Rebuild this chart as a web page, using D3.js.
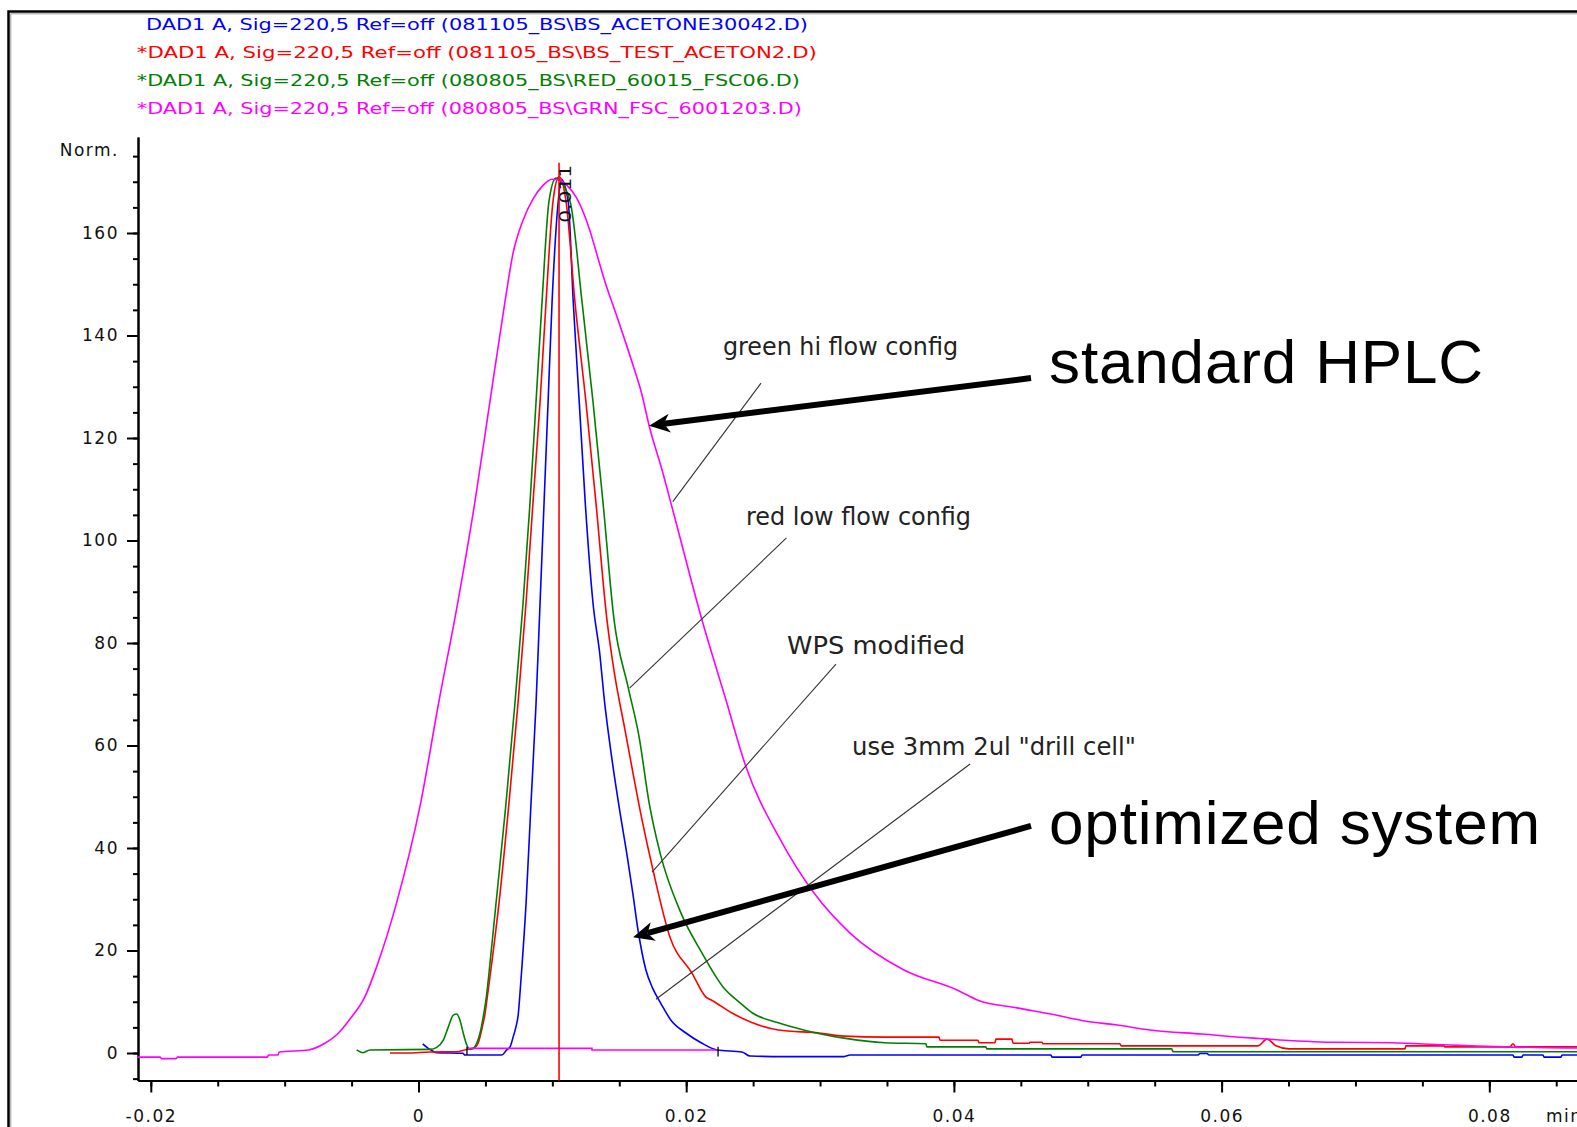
<!DOCTYPE html>
<html>
<head>
<meta charset="utf-8">
<script src="https://cdn.jsdelivr.net/npm/d3@7"></script>
<style>
  html, body { margin: 0; padding: 0; background: #fff; overflow: hidden; }
  svg { display: block; }
</style>
</head>
<body>
<svg id="chart" width="1577" height="1127"></svg>
<script>
// ---- Signal traces: [retention time (min), normalized response] ----
const acetone30042 = [
  [0.00031,1.8],[0.00086,0.7],[0.00136,0.06],[0.00332,-0.06],[0.00347,-0.4],[0.00622,-0.4],
  [0.00659,0.6],[0.00684,1.2],[0.00708,3.2],[0.00728,5.1],[0.00746,7.7],[0.00758,11.6],
  [0.00771,16.2],[0.00803,28.9],[0.0084,48.5],[0.00878,68.1],[0.00908,87.7],[0.00938,107.3],
  [0.00968,127.0],[0.00998,146.6],[0.01044,166.2],[0.01066,170.5],[0.01118,166.2],[0.01156,146.6],
  [0.01201,127.0],[0.01246,107.3],[0.01304,87.7],[0.01356,77.5],[0.01386,69.5],[0.01446,57.2],
  [0.01505,47.0],[0.01558,38.6],[0.01602,31.0],[0.0164,24.0],[0.01699,16.2],[0.0175,12.6],
  [0.01812,9.6],[0.01886,6.4],[0.01998,3.9],[0.02111,2.0],[0.0223,0.6],[0.02417,0.2],
  [0.02477,-0.6],[0.02723,-0.7],[0.03179,-0.7],[0.03224,-0.4],[0.04725,-0.4],[0.04733,-0.8],
  [0.04949,-0.8],[0.04957,-0.4],[0.05824,-0.4],[0.05839,-0.1],[0.05891,-0.1],[0.05906,-0.4],
  [0.08177,-0.4],[0.08185,-0.8],[0.08244,-0.8],[0.08252,-0.4],[0.08401,-0.4],[0.08409,-0.8],
  [0.08536,-0.8],[0.08543,-0.4],[0.0883,-0.4]
];
const testAceton2 = [
  [-0.00213,0.0],[-0.00086,0.0],[0.00086,0.2],[0.00285,0.25],[0.0036,0.7],[0.00409,0.9],
  [0.00445,1.9],[0.00472,4.5],[0.00497,7.7],[0.00521,12.3],[0.00547,17.5],[0.006,28.9],
  [0.00675,48.5],[0.00743,68.1],[0.00803,87.7],[0.00855,107.3],[0.00908,127.0],[0.00953,146.6],
  [0.01005,166.2],[0.0105,171.0],[0.01102,166.2],[0.01169,146.5],[0.01251,127.0],[0.01326,107.3],
  [0.01408,84.5],[0.0146,74.7],[0.01543,63.0],[0.0167,45.5],[0.01752,35.7],[0.01879,22.6],
  [0.02043,15.6],[0.02148,10.9],[0.0219,10.3],[0.02342,7.8],[0.02495,5.9],[0.02688,4.5],
  [0.02992,3.9],[0.0318,3.3],[0.03486,3.1],[0.03888,3.1],[0.03896,2.5],[0.0418,2.5],
  [0.04187,2.0],[0.04307,2.0],[0.04314,2.7],[0.04434,2.7],[0.04441,1.9],[0.04561,1.9],
  [0.04568,2.1],[0.04658,2.1],[0.04666,1.8],[0.05241,1.8],[0.05249,1.4],[0.06272,1.4],
  [0.06339,2.7],[0.06406,1.4],[0.06503,0.8],[0.0737,0.8],[0.07377,1.4],[0.07661,1.4],
  [0.07668,1.2],[0.08154,1.2],[0.08177,1.8],[0.08199,1.2],[0.0883,1.2]
];
const red60015 = [
  [-0.00462,0.6],[-0.00415,0.06],[-0.00362,0.6],[0.00086,0.7],[0.00136,1.1],[0.00185,2.5],
  [0.00223,5.1],[0.0026,7.4],[0.00285,7.6],[0.0031,6.4],[0.00335,3.8],[0.0036,1.6],
  [0.00385,0.7],[0.00409,0.9],[0.00435,1.9],[0.00459,3.8],[0.00484,7.1],[0.0051,11.6],
  [0.00529,16.2],[0.00578,28.9],[0.00653,48.5],[0.0072,68.1],[0.00781,87.7],[0.00833,107.3],
  [0.00878,127.0],[0.00923,146.6],[0.00975,166.2],[0.01027,170.7],[0.01132,166.2],[0.01222,146.5],
  [0.01304,127.0],[0.01379,107.3],[0.01461,84.5],[0.01566,71.4],[0.01648,61.7],[0.01723,48.8],
  [0.01805,39.0],[0.01961,27.3],[0.02118,19.5],[0.02275,12.9],[0.02402,9.8],[0.02495,7.8],
  [0.02688,5.9],[0.02876,4.5],[0.0318,2.9],[0.03485,2.0],[0.03791,1.8],[0.03798,1.2],
  [0.04239,1.2],[0.04246,0.8],[0.05628,0.8],[0.05636,0.25],[0.0883,0.25]
];
const grn6001203 = [
  [-0.021,-0.8],[-0.0193,-0.8],[-0.0192,-1.1],[-0.0181,-1.1],[-0.018,-0.8],[-0.0113,-0.8],
  [-0.0112,-0.4],[-0.0105,-0.4],[-0.0104,0.2],[-0.0082,0.6],[-0.00706,1.8],[-0.00594,4.0],
  [-0.00519,6.4],[-0.004,11.0],[-0.00309,17.1],[-0.00168,28.9],[0.00014,48.5],[0.00149,68.1],
  [0.00292,87.7],[0.0042,107.3],[0.00533,127.0],[0.00646,146.6],[0.00706,156.0],[0.00781,162.5],
  [0.00855,166.6],[0.0093,169.3],[0.00997,170.5],[0.01042,170.4],[0.01109,169.3],[0.01182,166.8],
  [0.0128,160.5],[0.01331,156.0],[0.01393,150.5],[0.01468,144.8],[0.01543,139.0],[0.01605,134.0],
  [0.01668,128.6],[0.01724,122.3],[0.01817,114.0],[0.01899,106.0],[0.02118,84.5],[0.0229,69.5],
  [0.02447,55.8],[0.02693,42.1],[0.02955,31.2],[0.03224,23.4],[0.03627,16.2],[0.04023,12.3],
  [0.0418,10.3],[0.04471,8.8],[0.04725,7.6],[0.04987,6.2],[0.05211,5.5],[0.05465,4.5],
  [0.05853,3.7],[0.06242,2.9],[0.06825,2.1],[0.07273,2.0],[0.07662,1.6],[0.08566,1.0],[0.0883,1.0]
];

// Integration baseline under the main peak and its start/end markers [time, low, high]
const peakBaseline = [[0.00362,0.9],[0.01296,0.9],[0.01296,0.6],[0.02238,0.6]];
const baselineMarks = [[0.00362,-0.4,1.2],[0.02238,-0.7,1.2]];

// Apex retention time and its label
const apexTime = 0.0105;
const apexTop = 173.7;
const apexLabel = "0.011";

// Signal descriptions, in trace order
const traceLabels = [
  "DAD1 A, Sig=220,5 Ref=off (081105_BS\\BS_ACETONE30042.D)",
  "*DAD1 A, Sig=220,5 Ref=off (081105_BS\\BS_TEST_ACETON2.D)",
  "*DAD1 A, Sig=220,5 Ref=off (080805_BS\\RED_60015_FSC06.D)",
  "*DAD1 A, Sig=220,5 Ref=off (080805_BS\\GRN_FSC_6001203.D)"
];

// Axis ticks
const xMajorTicks = [-0.02, 0, 0.02, 0.04, 0.06, 0.08, 0.10];
const xMinorTicks = d3.range(-0.02, 0.1001, 0.005).map(v => +v.toFixed(3));
const yMajorTicks = [0, 20, 40, 60, 80, 100, 120, 140, 160];
const yMinorTicks = d3.range(-5, 176, 5);
const yAxisTitle = "Norm.";
const xAxisUnit = "min";

// Callout notes: text, text anchor (time, value), leader from (time, value) to (time, value)
const noteText = ["green hi flow config", "red low flow config", "WPS modified", "use 3mm 2ul \"drill cell\""];
const noteAnchor = [[0.02275,136.2],[0.02447,103.0],[0.02753,77.9],[0.03239,58.1]];
const noteLeader = [
  [[0.02559,130.7],[0.019,107.6]],
  [[0.02749,100.5],[0.01577,71.2]],
  [[0.03119,75.9],[0.01745,35.3]],
  [[0.04121,56.4],[0.01774,10.5]]
];
// Headline callouts with arrows: text, text anchor, arrow start, arrow tip
const headText = ["standard HPLC", "optimized system"];
const headAnchor = [[0.04711,130.7],[0.04711,40.8]];
const headArrow = [
  [[0.04576,131.7],[0.01722,122.4]],
  [[0.04576,44.3],[0.01603,22.6]]
];

// ---- Presentation ----
const traceColors = ["#0000ff", "#ff0000", "#008000", "#ff00ff"];
const legendX = [146, 136.8, 136.8, 136.8];
const legendLen = [662, 680, 663, 665];
const noteLen = [235, 225, 178, 284];
const headLen = [434, 491];

const svg = d3.select("#chart");
const W = 1577, H = 1127;
svg.append("rect").attr("width", W).attr("height", H).attr("fill", "#fff");

const x = d3.scaleLinear().domain([-0.02, 0.08]).range([150.8, 1489.3]);
const y = d3.scaleLinear().domain([0, 160]).range([1053, 233]);
const axisY = 1080.5, axisX = 138;
const xAxisScale = x.copy().domain([x.invert(axisX), x.invert(1620)]).range([axisX, 1620]);
const yAxisScale = y.copy().domain([y.invert(axisY), y.invert(137)]).range([axisY, 137]);

// Outer frame (top and left edges visible)
const frame = svg.append("g");
frame.append("path").attr("d", `M8.5,${H} V11.5 H${W}`).attr("fill", "none")
  .attr("stroke", "#000").attr("stroke-width", 2.5);
frame.append("path").attr("d", `M10.8,${H} V13.8 H${W}`).attr("fill", "none")
  .attr("stroke", "#999").attr("stroke-width", 1);

const chartFont = "'DejaVu Sans', 'Liberation Sans', sans-serif";

// Signal legend
svg.append("g").selectAll("text").data(traceLabels).join("text")
  .attr("x", (d, i) => legendX[i])
  .attr("y", (d, i) => 29.6 + i * 28.15)
  .attr("font-family", chartFont).attr("font-size", 16.5)
  .attr("fill", (d, i) => traceColors[i])
  .attr("textLength", (d, i) => legendLen[i])
  .attr("lengthAdjust", "spacingAndGlyphs")
  .text(d => d);

// Axes
const fmtX = d => d === 0 ? "0" : d.toFixed(2);
function styleAxis(g) {
  g.select(".domain").attr("stroke", "#000").attr("stroke-width", 2);
  g.selectAll(".tick line").attr("stroke", "#000").attr("stroke-width", 2);
  g.selectAll(".tick text").attr("font-family", chartFont).attr("font-size", 17)
    .attr("fill", "#111").style("letter-spacing", "1.5px");
}
svg.append("g").attr("transform", `translate(0,${axisY})`)
  .call(d3.axisBottom(xAxisScale).tickValues(xMinorTicks).tickSize(6).tickFormat("").tickSizeOuter(0))
  .call(styleAxis);
svg.append("g").attr("transform", `translate(0,${axisY})`)
  .call(d3.axisBottom(xAxisScale).tickValues(xMajorTicks).tickSize(12).tickPadding(17)
    .tickFormat(fmtX).tickSizeOuter(0))
  .call(styleAxis);
svg.append("g").attr("transform", `translate(${axisX},0)`)
  .call(d3.axisLeft(yAxisScale).tickValues(yMinorTicks).tickSize(5).tickFormat("").tickSizeOuter(0))
  .call(styleAxis);
svg.append("g").attr("transform", `translate(${axisX},0)`)
  .call(d3.axisLeft(yAxisScale).tickValues(yMajorTicks).tickSize(11).tickPadding(8).tickSizeOuter(0))
  .call(styleAxis);

svg.append("text").attr("x", 119).attr("y", 156)
  .attr("text-anchor", "end").attr("font-family", chartFont).attr("font-size", 17)
  .attr("fill", "#111").style("letter-spacing", "1.5px").text(yAxisTitle);
svg.append("text").attr("x", 1546).attr("y", axisY + 41)
  .attr("font-family", chartFont).attr("font-size", 17)
  .attr("fill", "#111").style("letter-spacing", "1.5px").text(xAxisUnit);

// Traces
const line = d3.line().x(d => x(d[0])).y(d => y(d[1])).curve(d3.curveMonotoneX);
const straight = d3.line().x(d => x(d[0])).y(d => y(d[1]));
const traces = [acetone30042, testAceton2, red60015, grn6001203];
svg.append("g").selectAll("path").data(traces).join("path")
  .attr("d", line)
  .attr("fill", "none")
  .attr("stroke", (d, i) => traceColors[i])
  .attr("stroke-width", 1.6)
  .attr("stroke-linejoin", "round");

// Integration baseline and markers
svg.append("path").attr("d", straight(peakBaseline)).attr("fill", "none")
  .attr("stroke", traceColors[3]).attr("stroke-width", 1.6);
svg.append("g").selectAll("line").data(baselineMarks).join("line")
  .attr("x1", d => x(d[0])).attr("x2", d => x(d[0]))
  .attr("y1", d => y(d[1])).attr("y2", d => y(d[2]))
  .attr("stroke", "#000").attr("stroke-width", 1.3);

// Apex marker line and rotated retention time
svg.append("line")
  .attr("x1", x(apexTime)).attr("x2", x(apexTime))
  .attr("y1", y(apexTop)).attr("y2", axisY)
  .attr("stroke", "#ff0000").attr("stroke-width", 1.6);
svg.append("text")
  .attr("transform", `translate(${x(apexTime) + 12},${y(apexTop) + 60}) rotate(-90)`)
  .attr("font-family", chartFont).attr("font-size", 15)
  .attr("fill", "#111")
  .attr("textLength", 58).attr("lengthAdjust", "spacingAndGlyphs")
  .text(apexLabel);

// Callout leaders and notes
svg.append("g").selectAll("line").data(noteLeader).join("line")
  .attr("x1", d => x(d[0][0])).attr("y1", d => y(d[0][1]))
  .attr("x2", d => x(d[1][0])).attr("y2", d => y(d[1][1]))
  .attr("stroke", "#333").attr("stroke-width", 1.1);
svg.append("g").selectAll("text").data(noteText).join("text")
  .attr("x", (d, i) => x(noteAnchor[i][0]))
  .attr("y", (d, i) => y(noteAnchor[i][1]))
  .attr("font-family", chartFont).attr("font-size", 24)
  .attr("fill", "#222")
  .attr("textLength", (d, i) => noteLen[i])
  .attr("lengthAdjust", "spacingAndGlyphs")
  .text(d => d);

// Headline arrows
const arrows = svg.append("g");
headArrow.forEach(([s, t]) => {
  const x0 = x(s[0]), y0 = y(s[1]), x1 = x(t[0]), y1 = y(t[1]);
  const len = Math.hypot(x1 - x0, y1 - y0);
  const ux = (x1 - x0) / len, uy = (y1 - y0) / len;
  const px = -uy, py = ux;
  const headL = 21, notch = 15, half = 9.5;
  arrows.append("line")
    .attr("x1", x0).attr("y1", y0)
    .attr("x2", x1 - ux * notch).attr("y2", y1 - uy * notch)
    .attr("stroke", "#000").attr("stroke-width", 6);
  arrows.append("path")
    .attr("d", `M${x1},${y1}` +
      `L${x1 - ux * headL + px * half},${y1 - uy * headL + py * half}` +
      `L${x1 - ux * notch},${y1 - uy * notch}` +
      `L${x1 - ux * headL - px * half},${y1 - uy * headL - py * half}Z`)
    .attr("fill", "#000");
});
svg.append("g").selectAll("text").data(headText).join("text")
  .attr("x", (d, i) => x(headAnchor[i][0]))
  .attr("y", (d, i) => y(headAnchor[i][1]))
  .attr("font-family", "'Liberation Sans', Arial, sans-serif").attr("font-size", 62)
  .attr("fill", "#000")
  .attr("textLength", (d, i) => headLen[i])
  .attr("lengthAdjust", "spacing")
  .text(d => d);
</script>
</body>
</html>
